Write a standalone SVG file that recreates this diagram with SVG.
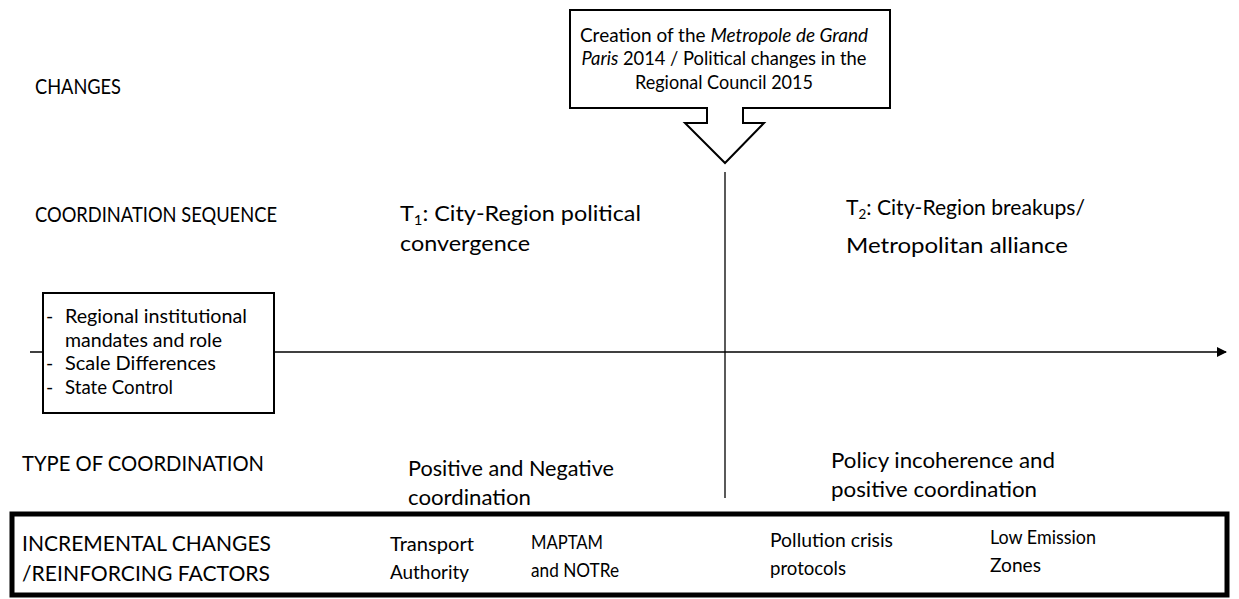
<svg xmlns="http://www.w3.org/2000/svg" width="1239" height="599" viewBox="0 0 1239 599">
<style>
text{font-family:Lato,"Noto Sans","Liberation Sans",sans-serif;fill:#000}
.lg{font-size:22px}
.md{font-size:19.5px}
.sm{font-size:18.5px}
.cl{font-size:19px}
.ln{stroke:#000;stroke-width:1.3;fill:none}
.bx{stroke:#000;stroke-width:2;fill:#fff}
</style>
<defs>
<marker id="ah" markerWidth="10" markerHeight="10" refX="9" refY="5" orient="auto" markerUnits="userSpaceOnUse" viewBox="0 0 10 10">
<path d="M0,0 L10,5 L0,10 z" fill="#000"/>
</marker>
</defs>
<rect width="1239" height="599" fill="#fff"/>
<g id="connectors">
<line class="ln" x1="30" y1="352" x2="1226" y2="352" marker-end="url(#ah)"/>
<line class="ln" x1="725" y1="172" x2="725" y2="498"/>
</g>
<g id="labels">
<text class="lg" x="35" y="94" textLength="86" lengthAdjust="spacingAndGlyphs">CHANGES</text>
<text class="lg" x="35" y="222" textLength="242" lengthAdjust="spacingAndGlyphs">COORDINATION SEQUENCE</text>
<text class="lg" x="22" y="471" textLength="242" lengthAdjust="spacingAndGlyphs">TYPE OF COORDINATION</text>
</g>
<g id="callout">
<path class="bx" d="M570,10 H890 V108 H743 V123 H764 L725,163 L685,123 H707 V108 H570 Z"/>
<text class="cl" text-anchor="middle" x="724" y="42" textLength="288" lengthAdjust="spacingAndGlyphs">Creation of the <tspan font-style="italic">Metropole de Grand</tspan></text>
<text class="cl" text-anchor="middle" x="724" y="65" textLength="285" lengthAdjust="spacingAndGlyphs"><tspan font-style="italic">Paris</tspan> 2014 / Political changes in the</text>
<text class="cl" text-anchor="middle" x="724" y="89" textLength="178" lengthAdjust="spacingAndGlyphs">Regional Council 2015</text>
</g>
<g id="t1">
<text class="lg" x="400" y="221" textLength="241" lengthAdjust="spacingAndGlyphs">T<tspan font-size="14" dy="4">1</tspan><tspan dy="-4">: City-Region political</tspan></text>
<text class="lg" x="400" y="251" textLength="130" lengthAdjust="spacingAndGlyphs">convergence</text>
</g>
<g id="t2">
<text class="lg" x="846" y="215" textLength="239" lengthAdjust="spacingAndGlyphs">T<tspan font-size="14" dy="4">2</tspan><tspan dy="-4">: City-Region breakups/</tspan></text>
<text class="lg" x="846" y="253" textLength="222" lengthAdjust="spacingAndGlyphs">Metropolitan alliance</text>
</g>
<g id="factors-box">
<rect class="bx" x="43" y="293" width="231" height="120"/>
<text class="md" x="46" y="323">-</text>
<text class="md" x="65" y="323" textLength="182" lengthAdjust="spacingAndGlyphs">Regional institutional</text>
<text class="md" x="65" y="347" textLength="157" lengthAdjust="spacingAndGlyphs">mandates and role</text>
<text class="md" x="46" y="370">-</text>
<text class="md" x="65" y="370" textLength="151" lengthAdjust="spacingAndGlyphs">Scale Differences</text>
<text class="md" x="46" y="394">-</text>
<text class="md" x="65" y="394" textLength="108" lengthAdjust="spacingAndGlyphs">State Control</text>
</g>
<g id="type1">
<text class="lg" x="408" y="476" textLength="206" lengthAdjust="spacingAndGlyphs">Positive and Negative</text>
<text class="lg" x="408" y="505" textLength="123" lengthAdjust="spacingAndGlyphs">coordination</text>
</g>
<g id="type2">
<text class="lg" x="831" y="468" textLength="224" lengthAdjust="spacingAndGlyphs">Policy incoherence and</text>
<text class="lg" x="831" y="497" textLength="206" lengthAdjust="spacingAndGlyphs">positive coordination</text>
</g>
<g id="incremental">
<rect x="12" y="514" width="1215" height="81" fill="#fff" stroke="#000" stroke-width="5"/>
<text class="lg" x="22" y="551" textLength="249" lengthAdjust="spacingAndGlyphs">INCREMENTAL CHANGES</text>
<text class="lg" x="22" y="581" textLength="248" lengthAdjust="spacingAndGlyphs">/REINFORCING FACTORS</text>
<text class="sm" x="390" y="551" textLength="84" lengthAdjust="spacingAndGlyphs">Transport</text>
<text class="sm" x="390" y="579" textLength="79" lengthAdjust="spacingAndGlyphs">Authority</text>
<text class="sm" x="531" y="549" textLength="72" lengthAdjust="spacingAndGlyphs">MAPTAM</text>
<text class="sm" x="531" y="577" textLength="88" lengthAdjust="spacingAndGlyphs">and NOTRe</text>
<text class="sm" x="770" y="547" textLength="123" lengthAdjust="spacingAndGlyphs">Pollution crisis</text>
<text class="sm" x="770" y="575" textLength="76" lengthAdjust="spacingAndGlyphs">protocols</text>
<text class="sm" x="990" y="544" textLength="106" lengthAdjust="spacingAndGlyphs">Low Emission</text>
<text class="sm" x="990" y="572" textLength="51" lengthAdjust="spacingAndGlyphs">Zones</text>
</g>
</svg>
